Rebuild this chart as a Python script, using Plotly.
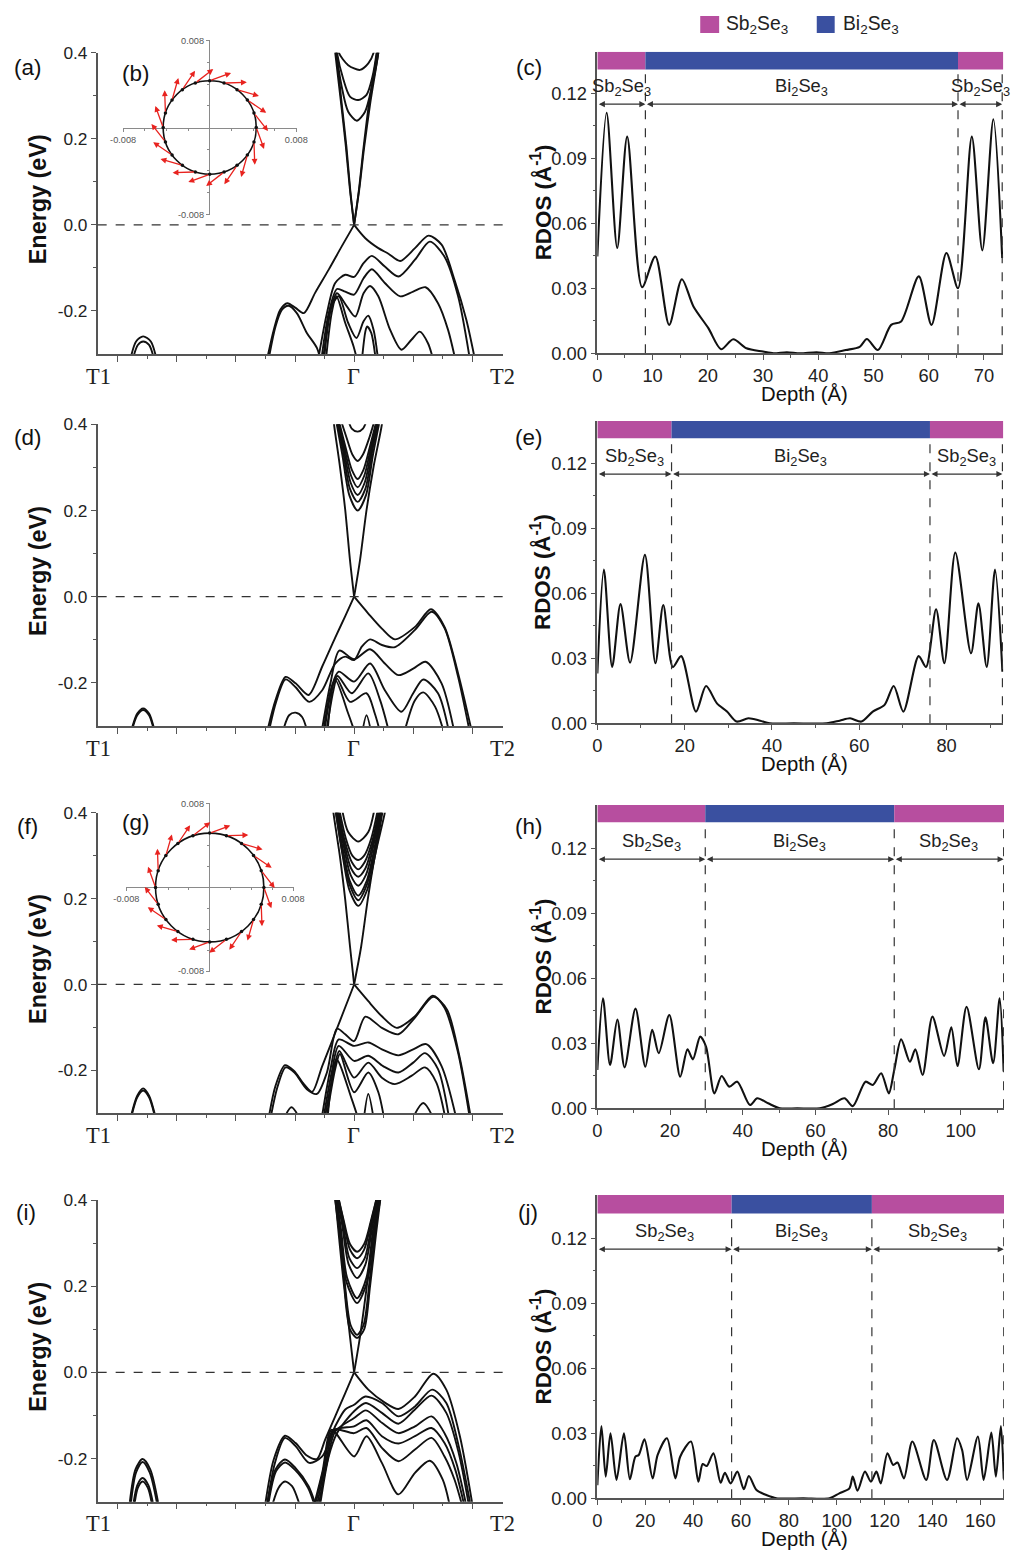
import math
import plotly.graph_objects as go

# The photographed page maps onto the picture as 10 px + 0.98 * page px, so layout
# positions (in picture px) are converted with that mapping.
FW, FH = 1015, 1550
OFF, SPAN_W, SPAN_H = 10, 995, 1530
FS = 1.017  # font scale compensating the photo shrink

# ------------------------------------------------------------------ band data
# k axis: T1 = -4, Gamma = 0, T2 = 2 (major tick units); E in eV
k_ticks = [-4, -3, -2, -1, 0, 1, 2]
k_minor = [-3.5, -2.5, -1.5, -0.5, 0.5, 1.5]
k_labels = ['T1', 'Γ', 'T2']
e_ticks = [-0.2, 0.0, 0.2, 0.4]
e_ticktext = ['-0.2', '0.0', '0.2', '0.4']
e_minor = [-0.1, 0.1, 0.3]

bands_a_k = [
    [-3.80, -3.69, -3.57, -3.44, -3.33],
    [-3.76, -3.66, -3.57, -3.47, -3.37],
    [-1.50, -1.36, -1.25, -1.13, -0.99, -0.85, -0.66, -0.43, -0.21, 0],
    [0, 0.19, 0.41, 0.58, 0.78, 1.03, 1.26, 1.48, 1.70, 1.90, 2.07],
    [-1.47, -1.33, -1.22, -1.11, -0.97, -0.80, -0.63, -0.54],
    [-0.63, -0.46, -0.32, -0.15, 0, 0.16, 0.30, 0.52, 0.75, 1.03, 1.28, 1.53, 1.76, 1.98],
    [-0.57, -0.43, -0.29, -0.15, 0, 0.16, 0.30, 0.52, 0.78, 1.0, 1.21, 1.42, 1.59, 1.74],
    [-0.54, -0.40, -0.29, -0.12, 0.02, 0.16, 0.27, 0.41, 0.61, 0.80, 0.97, 1.11, 1.25, 1.37],
    [-0.52, -0.38, -0.26, -0.10, 0.04, 0.16, 0.24, 0.33, 0.42],
    [-0.49, -0.38, -0.30, -0.15, -0.01, 0.08],
    [0.12, 0.19, 0.22, 0.29, 0.38],
    [0, -0.07, -0.14, -0.22, -0.32, -0.35],
    [0, 0.08, 0.16, 0.25, 0.39, 0.42],
    [0, -0.065, -0.13, -0.21, -0.30, -0.33],
    [0, 0.085, 0.17, 0.27, 0.41, 0.44],
    [-0.32, -0.30, -0.21, -0.10, 0.045, 0.185, 0.30, 0.41, 0.43],
    [-0.31, -0.29, -0.18, -0.07, 0.07, 0.21, 0.31, 0.38, 0.40],
    [-0.28, -0.26, -0.10, 0.10, 0.24, 0.33, 0.35],
]
bands_a_E = [
    [-0.32, -0.271, -0.259, -0.271, -0.32],
    [-0.32, -0.279, -0.271, -0.279, -0.32],
    [-0.33, -0.244, -0.197, -0.182, -0.193, -0.205, -0.158, -0.104, -0.050, 0],
    [0, -0.031, -0.054, -0.067, -0.084, -0.054, -0.025, -0.046, -0.128, -0.221, -0.33],
    [-0.33, -0.236, -0.197, -0.188, -0.205, -0.251, -0.286, -0.33],
    [-0.33, -0.205, -0.135, -0.116, -0.121, -0.089, -0.072, -0.097, -0.120, -0.081, -0.039, -0.074, -0.166, -0.33],
    [-0.33, -0.205, -0.149, -0.155, -0.162, -0.124, -0.103, -0.135, -0.166, -0.155, -0.145, -0.182, -0.244, -0.33],
    [-0.33, -0.197, -0.159, -0.190, -0.213, -0.159, -0.142, -0.166, -0.244, -0.290, -0.267, -0.248, -0.275, -0.33],
    [-0.33, -0.190, -0.166, -0.228, -0.263, -0.224, -0.211, -0.244, -0.33],
    [-0.33, -0.205, -0.166, -0.228, -0.282, -0.33],
    [-0.33, -0.248, -0.236, -0.251, -0.33],
    [0, 0.081, 0.182, 0.282, 0.40, 0.44],
    [0, 0.08, 0.18, 0.28, 0.40, 0.44],
    [0, 0.081, 0.182, 0.282, 0.40, 0.44],
    [0, 0.08, 0.18, 0.28, 0.40, 0.44],
    [0.43, 0.40, 0.321, 0.263, 0.242, 0.263, 0.321, 0.40, 0.43],
    [0.43, 0.40, 0.337, 0.298, 0.29, 0.302, 0.344, 0.40, 0.43],
    [0.42, 0.40, 0.371, 0.36, 0.375, 0.40, 0.42],
]

bands_d_k = [
    [-3.79, -3.67, -3.57, -3.47, -3.36],
    [-3.78, -3.67, -3.57, -3.47, -3.37],
    [-1.50, -1.33, -1.16, -0.99, -0.77, -0.54, -0.32, -0.15, 0],
    [0, 0.24, 0.47, 0.69, 1.03, 1.30, 1.53, 1.76, 2.02],
    [-1.47, -1.32, -1.16, -0.99, -0.76, -0.54, -0.32, -0.15, 0, 0.13, 0.27, 0.47, 0.69, 1.03, 1.31, 1.53, 1.76, 1.98],
    [-0.57, -0.40, -0.25, 0, 0.27, 0.52, 0.75, 1.0, 1.21, 1.48, 1.72],
    [-0.54, -0.38, -0.26, 0, 0.27, 0.52, 0.80, 1.0, 1.17, 1.42, 1.63],
    [-0.52, -0.37, -0.28, -0.04, 0.24, 0.44, 0.62],
    [0.82, 1.03, 1.17, 1.37, 1.55],
    [-0.49, -0.35, -0.29, -0.07, 0.21, 0.35, 0.47],
    [-0.46, -0.32, -0.10, 0.05],
    [0.12, 0.21, 0.31],
    [-1.24, -1.10, -0.99, -0.88, -0.76],
    [0, -0.07, -0.15, -0.24, -0.34, -0.36],
    [0, 0.10, 0.21, 0.33, 0.47, 0.49],
    [-0.32, -0.20, -0.08, 0.06, 0.20, 0.32, 0.45],
    [-0.31, -0.19, -0.07, 0.06, 0.19, 0.31, 0.43],
    [-0.30, -0.18, -0.06, 0.06, 0.18, 0.30, 0.42],
    [-0.29, -0.17, -0.05, 0.06, 0.17, 0.29, 0.41],
    [-0.28, -0.16, -0.04, 0.06, 0.16, 0.28, 0.40],
    [-0.25, -0.13, -0.03, 0.06, 0.15, 0.26, 0.37],
    [-0.12, -0.04, 0.06, 0.15, 0.24],
]
bands_d_E = [
    [-0.32, -0.271, -0.259, -0.271, -0.32],
    [-0.32, -0.275, -0.263, -0.275, -0.32],
    [-0.33, -0.240, -0.186, -0.201, -0.228, -0.162, -0.095, -0.045, 0],
    [0, -0.039, -0.074, -0.099, -0.070, -0.029, -0.070, -0.178, -0.33],
    [-0.33, -0.244, -0.192, -0.210, -0.244, -0.217, -0.155, -0.139, -0.147, -0.116, -0.099, -0.112, -0.117, -0.077, -0.035, -0.073, -0.186, -0.33],
    [-0.33, -0.201, -0.125, -0.145, -0.122, -0.155, -0.182, -0.167, -0.151, -0.201, -0.33],
    [-0.33, -0.209, -0.174, -0.197, -0.155, -0.217, -0.267, -0.224, -0.192, -0.224, -0.33],
    [-0.33, -0.209, -0.184, -0.224, -0.178, -0.240, -0.33],
    [-0.33, -0.240, -0.222, -0.255, -0.33],
    [-0.33, -0.217, -0.190, -0.244, -0.224, -0.271, -0.33],
    [-0.33, -0.193, -0.271, -0.33],
    [-0.33, -0.275, -0.33],
    [-0.33, -0.275, -0.269, -0.279, -0.33],
    [0, 0.085, 0.201, 0.302, 0.40, 0.43],
    [0, 0.085, 0.201, 0.302, 0.40, 0.43],
    [0.42, 0.33, 0.235, 0.20, 0.235, 0.33, 0.42],
    [0.42, 0.34, 0.25, 0.22, 0.25, 0.34, 0.42],
    [0.42, 0.345, 0.265, 0.236, 0.265, 0.345, 0.42],
    [0.42, 0.35, 0.28, 0.254, 0.28, 0.35, 0.42],
    [0.42, 0.355, 0.295, 0.273, 0.295, 0.355, 0.42],
    [0.42, 0.37, 0.33, 0.315, 0.33, 0.37, 0.42],
    [0.42, 0.39, 0.383, 0.39, 0.42],
]

bands_f_k = [
    [-3.80, -3.67, -3.57, -3.47, -3.34],
    [-3.79, -3.67, -3.57, -3.47, -3.35],
    [-1.47, -1.33, -1.17, -1.02, -0.85, -0.71, -0.54, -0.32, -0.15, 0],
    [0, 0.24, 0.47, 0.72, 1.03, 1.33, 1.53, 1.76, 1.98],
    [-1.44, -1.30, -1.16, -1.01, -0.80, -0.63, -0.46, -0.29, -0.15, 0, 0.19, 0.47, 0.75, 1.03, 1.34, 1.57, 1.78, 2.0],
    [-0.57, -0.40, -0.26, 0, 0.24, 0.47, 0.75, 1.0, 1.22, 1.48, 1.76],
    [-0.54, -0.38, -0.26, 0, 0.24, 0.49, 0.75, 1.0, 1.20, 1.42, 1.63],
    [-0.52, -0.35, -0.25, 0, 0.24, 0.47, 0.69, 0.97, 1.20, 1.39, 1.57],
    [-0.49, -0.32, -0.24, 0, 0.24, 0.41, 0.53],
    [-0.46, -0.30, -0.04, 0.11],
    [0.15, 0.24, 0.35],
    [0.93, 1.17, 1.40],
    [-1.24, -1.06, -0.86],
    [0, -0.07, -0.15, -0.24, -0.35, -0.37],
    [0, 0.12, 0.23, 0.35, 0.52, 0.55],
    [-0.22, -0.10, 0.07, 0.24, 0.36],
    [-0.27, -0.14, -0.03, 0.07, 0.17, 0.29, 0.42],
    [-0.29, -0.16, -0.04, 0.07, 0.18, 0.31, 0.44],
    [-0.30, -0.17, -0.05, 0.07, 0.19, 0.32, 0.46],
    [-0.31, -0.18, -0.06, 0.07, 0.20, 0.33, 0.47],
    [-0.32, -0.19, -0.07, 0.07, 0.21, 0.34, 0.48],
    [-0.33, -0.20, -0.07, 0.07, 0.21, 0.35, 0.49],
    [-0.33, -0.20, -0.08, 0.07, 0.22, 0.36, 0.50],
]
bands_f_E = [
    [-0.32, -0.259, -0.242, -0.259, -0.32],
    [-0.32, -0.263, -0.247, -0.263, -0.32],
    [-0.33, -0.236, -0.188, -0.201, -0.232, -0.250, -0.190, -0.113, -0.053, 0],
    [0, -0.039, -0.074, -0.101, -0.074, -0.026, -0.054, -0.159, -0.33],
    [-0.33, -0.240, -0.193, -0.205, -0.244, -0.255, -0.205, -0.103, -0.116, -0.132, -0.075, -0.101, -0.116, -0.077, -0.029, -0.058, -0.166, -0.33],
    [-0.33, -0.197, -0.128, -0.143, -0.135, -0.151, -0.165, -0.151, -0.139, -0.190, -0.33],
    [-0.33, -0.205, -0.143, -0.178, -0.166, -0.190, -0.205, -0.182, -0.160, -0.197, -0.33],
    [-0.33, -0.205, -0.155, -0.217, -0.182, -0.217, -0.232, -0.213, -0.193, -0.228, -0.33],
    [-0.33, -0.197, -0.162, -0.251, -0.205, -0.251, -0.33],
    [-0.33, -0.174, -0.267, -0.33],
    [-0.33, -0.255, -0.33],
    [-0.33, -0.276, -0.33],
    [-0.33, -0.286, -0.33],
    [0, 0.089, 0.197, 0.298, 0.40, 0.43],
    [0, 0.089, 0.197, 0.298, 0.40, 0.43],
    [0.42, 0.355, 0.333, 0.355, 0.42],
    [0.42, 0.34, 0.30, 0.29, 0.30, 0.34, 0.42],
    [0.42, 0.335, 0.285, 0.268, 0.285, 0.335, 0.42],
    [0.42, 0.33, 0.27, 0.251, 0.27, 0.33, 0.42],
    [0.42, 0.325, 0.255, 0.23, 0.255, 0.325, 0.42],
    [0.42, 0.315, 0.24, 0.207, 0.24, 0.315, 0.42],
    [0.42, 0.31, 0.23, 0.196, 0.23, 0.31, 0.42],
    [0.42, 0.305, 0.22, 0.183, 0.22, 0.305, 0.42],
]

bands_i_k = [
    [-3.82, -3.70, -3.58, -3.45, -3.28],
    [-3.80, -3.69, -3.58, -3.46, -3.30],
    [-3.76, -3.67, -3.58, -3.48, -3.37],
    [-3.74, -3.66, -3.58, -3.49, -3.39],
    [-1.53, -1.36, -1.17, -0.99, -0.80, -0.63, -0.49, -0.32, -0.15, 0],
    [0, 0.24, 0.52, 0.75, 1.03, 1.34, 1.56, 1.79, 2.03],
    [-1.50, -1.34, -1.17, -0.99, -0.76, -0.54, -0.32, -0.15, 0, 0.19, 0.47, 0.75, 1.03, 1.32, 1.56, 1.77, 2.0],
    [-0.60, -0.43, -0.29, 0, 0.20, 0.47, 0.75, 1.03, 1.31, 1.56, 1.77, 1.97],
    [-0.63, -0.46, -0.32, 0, 0.20, 0.47, 0.75, 1.03, 1.31, 1.53, 1.73, 1.93],
    [-0.66, -0.49, -0.33, 0, 0.21, 0.47, 0.75, 1.03, 1.31, 1.53, 1.71, 1.90],
    [-0.69, -0.52, -0.35, 0, 0.21, 0.47, 0.75, 1.03, 1.31, 1.53, 1.70, 1.87],
    [-0.72, -0.54, -0.38, 0, 0.21, 0.47, 0.75, 1.03, 1.28, 1.50, 1.65],
    [-1.50, -1.33, -1.17, -0.99, -0.77, -0.60],
    [-1.48, -1.32, -1.17, -1.0, -0.78, -0.62],
    [-1.43, -1.28, -1.17, -1.05, -0.87],
    [0, -0.07, -0.15, -0.22, -0.32, -0.34],
    [0, 0.10, 0.20, 0.30, 0.44, 0.46],
    [-0.29, -0.18, -0.07, 0.05, 0.17, 0.29, 0.41],
    [-0.29, -0.18, -0.07, 0.05, 0.17, 0.29, 0.41],
    [-0.30, -0.19, -0.08, 0.05, 0.18, 0.30, 0.42],
    [-0.30, -0.20, -0.09, 0.05, 0.19, 0.31, 0.42],
    [-0.31, -0.22, -0.12, 0.05, 0.21, 0.32, 0.43],
    [-0.32, -0.23, -0.13, 0.05, 0.22, 0.33, 0.44],
    [-0.32, -0.25, -0.16, -0.06, 0.05, 0.16, 0.26, 0.36, 0.45],
    [-0.33, -0.26, -0.17, -0.07, 0.05, 0.17, 0.27, 0.37, 0.46],
]
bands_i_E = [
    [-0.33, -0.225, -0.201, -0.225, -0.33],
    [-0.33, -0.232, -0.208, -0.232, -0.33],
    [-0.33, -0.262, -0.245, -0.262, -0.33],
    [-0.33, -0.268, -0.253, -0.268, -0.33],
    [-0.33, -0.202, -0.147, -0.164, -0.193, -0.201, -0.156, -0.102, -0.048, 0],
    [0, -0.040, -0.070, -0.085, -0.056, -0.003, -0.040, -0.148, -0.33],
    [-0.33, -0.210, -0.152, -0.171, -0.210, -0.195, -0.125, -0.086, -0.075, -0.056, -0.071, -0.102, -0.079, -0.040, -0.071, -0.171, -0.33],
    [-0.33, -0.195, -0.141, -0.090, -0.071, -0.094, -0.119, -0.086, -0.054, -0.094, -0.187, -0.33],
    [-0.33, -0.210, -0.137, -0.106, -0.088, -0.117, -0.141, -0.125, -0.102, -0.141, -0.210, -0.33],
    [-0.33, -0.218, -0.134, -0.125, -0.111, -0.148, -0.165, -0.148, -0.129, -0.164, -0.225, -0.33],
    [-0.33, -0.225, -0.133, -0.141, -0.129, -0.175, -0.206, -0.179, -0.152, -0.195, -0.249, -0.33],
    [-0.33, -0.233, -0.133, -0.195, -0.148, -0.210, -0.283, -0.233, -0.205, -0.249, -0.33],
    [-0.33, -0.225, -0.202, -0.222, -0.264, -0.33],
    [-0.33, -0.229, -0.209, -0.226, -0.268, -0.33],
    [-0.33, -0.268, -0.253, -0.264, -0.33],
    [0, 0.083, 0.184, 0.292, 0.40, 0.43],
    [0, 0.083, 0.184, 0.292, 0.40, 0.43],
    [0.42, 0.355, 0.298, 0.280, 0.298, 0.355, 0.42],
    [0.42, 0.35, 0.285, 0.265, 0.285, 0.35, 0.42],
    [0.42, 0.345, 0.265, 0.242, 0.265, 0.345, 0.42],
    [0.42, 0.34, 0.25, 0.219, 0.25, 0.34, 0.42],
    [0.42, 0.33, 0.22, 0.172, 0.22, 0.33, 0.42],
    [0.42, 0.32, 0.21, 0.161, 0.21, 0.32, 0.42],
    [0.42, 0.33, 0.21, 0.11, 0.087, 0.11, 0.21, 0.33, 0.42],
    [0.42, 0.32, 0.20, 0.10, 0.080, 0.10, 0.20, 0.32, 0.42],
]

# ------------------------------------------------------------------ RDOS data
depth_c = [0, 1.68, 3.6, 5.4, 8.1, 10.5, 13.0, 15.3, 17.4, 20.1, 22.4, 24.6, 27, 30, 31.9, 34.3, 36.7,
           39.7, 42, 45, 47.5, 48.8, 50.8, 53.2, 55, 58.2, 60.5, 63.2, 65.3, 67.8, 69.7, 71.7, 73.3]
rdos_c = [0.0447, 0.111, 0.0486, 0.100, 0.0305, 0.0447, 0.0131, 0.0342, 0.0216, 0.0116, 0.0019, 0.0065,
          0.0023, 0.0008, 0, 0.0005, 0, 0.0005, 0, 0.0015, 0.003, 0.0066, 0.0015, 0.0131, 0.0147, 0.0355,
          0.0131, 0.0463, 0.030, 0.100, 0.0475, 0.108, 0.044]

depth_e = [0, 1.5, 3.4, 5.3, 7.5, 10.9, 13.3, 15.1, 17.3, 19.2, 22.6, 24.9, 27.4, 29.7, 31.9, 34.6, 37.3,
           39.5, 45, 52.5, 55.5, 57.9, 60.5, 63.1, 65.8, 67.9, 70.1, 73.6, 75.3, 77.6, 79.5, 82.0, 85.6,
           87.3, 89.2, 91.1, 92.8]
rdos_e = [0.023, 0.071, 0.026, 0.055, 0.028, 0.0777, 0.0277, 0.0546, 0.026, 0.031, 0.0054, 0.0172, 0.0092,
          0.0054, 0.0008, 0.0023, 0.0012, 0, 0, 0, 0.0012, 0.0023, 0.0008, 0.0054, 0.0085, 0.0172, 0.0054,
          0.031, 0.026, 0.0526, 0.0277, 0.0788, 0.0323, 0.0554, 0.026, 0.071, 0.0238]

depth_h = [0, 1.55, 3.5, 5.5, 7.5, 10.5, 13.2, 15.1, 16.9, 19.8, 22.8, 24.8, 26.3, 28.3, 29.9, 32.2, 34.2,
           36.3, 38.5, 42.0, 44.0, 47.0, 50.2, 55.0, 61.2, 64.8, 68.0, 70.3, 73.8, 75.8, 78.1, 80.2, 81.7,
           83.6, 86.0, 87.5, 89.5, 92.2, 95.4, 97.4, 99.1, 101.6, 105.0, 106.8, 108.9, 110.7, 111.8]
rdos_h = [0.0177, 0.0508, 0.020, 0.041, 0.0189, 0.046, 0.0192, 0.0362, 0.0254, 0.0431, 0.0146, 0.0272,
          0.0226, 0.0331, 0.0285, 0.0069, 0.0149, 0.010, 0.0123, 0.0015, 0.0046, 0.0023, 0, 0, 0, 0.002,
          0.0046, 0.001, 0.0123, 0.0108, 0.0162, 0.0069, 0.0177, 0.0318, 0.0215, 0.0272, 0.0154, 0.0423,
          0.0242, 0.0374, 0.0195, 0.0469, 0.018, 0.042, 0.0208, 0.0508, 0.0170]

depth_j = [0, 1.7, 3.5, 5.5, 8.0, 11.1, 13.6, 15.9, 17.3, 19.7, 23.1, 25.2, 29.1, 32.6, 34.6, 39.1, 42.2,
           44.0, 45.7, 48.5, 51.5, 53.3, 55.7, 58.5, 61.2, 63.3, 66.5, 70.6, 74.8, 86, 97.0, 101.1, 105.3,
           106.7, 108.7, 111.8, 114.3, 116.6, 118.4, 121.2, 123.6, 125.4, 128.1, 131.6, 137.4, 140.6, 146.1,
           150.3, 152.4, 154.5, 159.0, 161.4, 164.6, 166.5, 168.6, 169.8]
rdos_j = [0.006, 0.0334, 0.010, 0.030, 0.0085, 0.030, 0.0088, 0.0192, 0.020, 0.0272, 0.0092, 0.020, 0.0277,
          0.0092, 0.0192, 0.0262, 0.0077, 0.0158, 0.0149, 0.0208, 0.0072, 0.0118, 0.0069, 0.0123, 0.0042,
          0.0103, 0.0038, 0.0015, 0, 0, 0, 0.0023, 0.0046, 0.010, 0.0035, 0.0123, 0.0077, 0.0123, 0.0069,
          0.0208, 0.0154, 0.0165, 0.0092, 0.0262, 0.0085, 0.0269, 0.0085, 0.0277, 0.0223, 0.0085, 0.0285,
          0.0085, 0.0303, 0.010, 0.0334, 0.009]

layers_c = [0, 8.7, 65.3, 73.3]
layers_e = [0, 17.0, 76.2, 92.8]
layers_h = [0, 29.7, 81.7, 111.8]
layers_j = [0, 56.1, 114.7, 169.8]
layer_names = ['Sb<sub>2</sub>Se<sub>3</sub>', 'Bi<sub>2</sub>Se<sub>3</sub>', 'Sb<sub>2</sub>Se<sub>3</sub>']

rdos_ticks = [0, 0.03, 0.06, 0.09, 0.12]
rdos_ticktext = ['0.00', '0.03', '0.06', '0.09', '0.12']
rdos_minor = [0.015, 0.045, 0.075, 0.105]

# ------------------------------------------------------------------ spin texture data
spin_angles = [0, 18, 36, 54, 72, 90, 108, 126, 144, 162, 180, 198, 216, 234, 252, 270, 288, 306, 324, 342]
spin_radius_b = 0.0043
spin_radius_g = 0.0052
inset_ticks = [-0.008, 0.008]
inset_ticktext = ['-0.008', '0.008']
inset_minor = [-0.006, -0.004, -0.002, 0.002, 0.004, 0.006]

PINK = '#b74e9f'
BLUE = '#3a50a0'
RED = '#e8231f'
AXC = '#555555'
TXT = '#222222'
SANS = 'Liberation Sans, Arial, sans-serif'
SERIF = 'Liberation Serif, Times New Roman, serif'

fig = go.Figure()
shapes, annotations, axes = [], [], {}


def px(v):
    return min(max((v - OFF) / SPAN_W, 0), 1)


def py(v):
    return min(max(1 - (v - OFF) / SPAN_H, 0), 1)


def fs(size):
    return round(size * FS, 1)


def aname(i, kind):
    return f'{kind}axis' + ('' if i == 1 else str(i))


def aref(i, kind):
    return kind + ('' if i == 1 else str(i))


def paper_text(text, x, y, size, family=SANS, color='#111', angle=0, xanchor='center'):
    annotations.append(dict(text=text, x=px(x), y=py(y), xref='paper', yref='paper', showarrow=False,
                            xanchor=xanchor, yanchor='middle', textangle=angle,
                            font=dict(family=family, size=fs(size), color=color)))


def band_panel(i, top, bot, ks, Es):
    xr, yr = aref(i, 'x'), aref(i, 'y')
    for k, E in zip(ks, Es):
        fig.add_trace(go.Scatter(x=k, y=E, mode='lines', xaxis=xr, yaxis=yr, hoverinfo='skip',
                                 showlegend=False,
                                 line=dict(color='#111111', width=1.9, shape='spline', smoothing=0.8)))
    axes[aname(i, 'x')] = dict(
        domain=[px(95), px(502)], range=[-4.34, 2.52], anchor=yr, showline=True, linecolor=AXC,
        linewidth=1.5, ticks='outside', ticklen=6, tickwidth=1.3, tickcolor=AXC, tickmode='array',
        tickvals=k_ticks, showticklabels=False,
        minor=dict(tickmode='array', tickvals=k_minor, ticks='outside', ticklen=3, tickwidth=1.1,
                   tickcolor=AXC),
        showgrid=False, zeroline=False, fixedrange=True)
    axes[aname(i, 'y')] = dict(
        domain=[py(bot), py(top)], range=[-0.3, 0.4], anchor=xr, showline=True, linecolor=AXC,
        linewidth=1.5, ticks='outside', ticklen=5, tickwidth=1.3, tickcolor=AXC, tickmode='array',
        tickvals=e_ticks, ticktext=e_ticktext, tickfont=dict(family=SANS, size=fs(17), color=TXT),
        minor=dict(tickmode='array', tickvals=e_minor, ticks='outside', ticklen=3, tickwidth=1.1,
                   tickcolor=AXC),
        showgrid=False, zeroline=False, fixedrange=True)
    shapes.append(dict(type='line', xref=f'{xr} domain', yref=yr, x0=0, x1=1, y0=0, y1=0,
                       line=dict(color='#333333', width=1.2, dash='dash')))
    # k-path labels: T1 and T2 sit at the ends of the axis, Γ under its tick
    for lab, xx in zip(k_labels, [96, 352.3, 501]):
        paper_text(lab, xx, bot + 22, 22, family=SERIF, color=TXT)
    paper_text('<b>Energy (eV)</b>', 35, (top + bot) / 2 - 4, 23, angle=-90)


def rdos_panel(i, top, bot, xright, x1px, ytop, bar_lo, depth, rdos, layers, xt, xminor):
    xr, yr = aref(i, 'x'), aref(i, 'y')
    fig.add_trace(go.Scatter(x=depth, y=rdos, mode='lines', xaxis=xr, yaxis=yr, hoverinfo='skip',
                             showlegend=False,
                             line=dict(color='#111111', width=2.1, shape='spline', smoothing=0.8)))
    axes[aname(i, 'x')] = dict(
        domain=[px(596.7), px(x1px)], range=[0, xright], anchor=yr, showline=True, linecolor=AXC,
        linewidth=1.5, ticks='outside', ticklen=5, tickwidth=1.3, tickcolor=AXC, tickmode='array',
        tickvals=xt, tickfont=dict(family=SANS, size=fs(18), color=TXT),
        minor=dict(tickmode='array', tickvals=xminor, ticks='outside', ticklen=3, tickwidth=1.1,
                   tickcolor=AXC),
        showgrid=False, zeroline=False, fixedrange=True)
    axes[aname(i, 'y')] = dict(
        domain=[py(bot), py(top)], range=[0, ytop], anchor=xr, showline=True, linecolor=AXC,
        linewidth=1.5, ticks='outside', ticklen=5, tickwidth=1.3, tickcolor=AXC, tickmode='array',
        tickvals=rdos_ticks, ticktext=rdos_ticktext, ticklabelstandoff=0,
        tickfont=dict(family=SANS, size=fs(18), color=TXT),
        minor=dict(tickmode='array', tickvals=rdos_minor, ticks='outside', ticklen=3, tickwidth=1.1,
                   tickcolor=AXC),
        showgrid=False, zeroline=False, fixedrange=True)
    segs = [(layers[0], layers[1], PINK), (layers[1], layers[2], BLUE), (layers[2], xright, PINK)]
    for a, b, c in segs:
        shapes.append(dict(type='rect', xref=xr, yref=yr, x0=a, x1=b, y0=bar_lo, y1=ytop,
                           fillcolor=c, line=dict(width=0), layer='above'))
    for d in layers[1:]:
        shapes.append(dict(type='line', xref=xr, yref=yr, x0=d, x1=d, y0=0, y1=bar_lo,
                           line=dict(color='#333333', width=1.2, dash='dash')))
    for j in range(3):
        annotations.append(dict(x=layers[j + 1], y=0.115, ax=layers[j], ay=0.115, xref=xr, yref=yr,
                                axref=xr, ayref=yr, text='', showarrow=True, arrowside='end+start',
                                arrowhead=2, arrowsize=1.1, arrowwidth=1.1, arrowcolor='#333333',
                                standoff=0, startstandoff=0))
        annotations.append(dict(x=(layers[j] + layers[j + 1]) / 2, y=0.1228, xref=xr, yref=yr,
                                text=layer_names[j], showarrow=False, xanchor='center',
                                yanchor='middle', font=dict(family=SANS, size=fs(18), color='#222')))
    paper_text('<b>RDOS (Å<sup>-1</sup>)</b>', 540, (top + bot) / 2, 22, angle=-90)
    paper_text('Depth (Å)', 805, bot + 41, 20)


def spin_inset(i, x0p, x1p, y0p, y1p, cxp, cyp, radius, alen, tilt):
    xr, yr = aref(i, 'x'), aref(i, 'y')
    common = dict(range=[-0.00805, 0.00805], anchor='free', showline=True, linecolor='#8a8a8a',
                  linewidth=1, ticks='outside', ticklen=3, tickwidth=1, tickcolor='#8a8a8a',
                  tickmode='array', tickvals=inset_ticks, ticktext=inset_ticktext,
                  tickfont=dict(family=SANS, size=fs(9), color='#555'),
                  minor=dict(tickmode='array', tickvals=inset_minor, ticks='outside', ticklen=2,
                             tickwidth=1, tickcolor='#8a8a8a'),
                  showgrid=False, zeroline=False, fixedrange=True, layer='below traces')
    axes[aname(i, 'x')] = dict(domain=[px(x0p), px(x1p)], position=py(cyp), **common)
    axes[aname(i, 'y')] = dict(domain=[py(y1p), py(y0p)], position=px(cxp), **common)
    shapes.append(dict(type='circle', xref=xr, yref=yr, x0=-radius, x1=radius, y0=-radius, y1=radius,
                       line=dict(color='#111111', width=1.6)))
    tx = [radius * math.cos(math.radians(a)) for a in spin_angles]
    ty = [radius * math.sin(math.radians(a)) for a in spin_angles]
    fig.add_trace(go.Scatter(x=tx, y=ty, mode='markers', xaxis=xr, yaxis=yr, hoverinfo='skip',
                             showlegend=False, marker=dict(color='#111111', size=3.5)))
    for a, x0, y0 in zip(spin_angles, tx, ty):
        phi = math.radians(a - 90 + tilt)
        annotations.append(dict(x=x0 + alen * math.cos(phi), y=y0 + alen * math.sin(phi), ax=x0, ay=y0,
                                xref=xr, yref=yr, axref=xr, ayref=yr, text='', showarrow=True,
                                arrowhead=2, arrowsize=0.9, arrowwidth=1.3, arrowcolor=RED,
                                standoff=0, startstandoff=0))


# band structure panels
band_panel(1, 52.7, 354.0, bands_a_k, bands_a_E)
band_panel(3, 424.3, 726.0, bands_d_k, bands_d_E)
band_panel(5, 812.7, 1113.3, bands_f_k, bands_f_E)
band_panel(7, 1200.0, 1501.7, bands_i_k, bands_i_E)

# RDOS panels
rdos_panel(2, 51.7, 353.3, 73.5, 1004.3, 0.1392, 0.131, depth_c, rdos_c, layers_c,
           [0, 10, 20, 30, 40, 50, 60, 70], [5, 15, 25, 35, 45, 55, 65])
rdos_panel(4, 421.0, 723.3, 93.0, 1004.3, 0.1395, 0.1315, depth_e, rdos_e, layers_e,
           [0, 20, 40, 60, 80], [10, 30, 50, 70, 90])
rdos_panel(6, 805.0, 1108.3, 111.9, 1005.0, 0.14, 0.132, depth_h, rdos_h, layers_h,
           [0, 20, 40, 60, 80, 100], [10, 30, 50, 70, 90, 110])
rdos_panel(8, 1195.0, 1498.3, 169.9, 1005.0, 0.14, 0.1315, depth_j, rdos_j, layers_j,
           [0, 20, 40, 60, 80, 100, 120, 140, 160], [10, 30, 50, 70, 90, 110, 130, 150])

# spin texture insets
spin_inset(9, 120, 295, 40, 215, 206.7, 128.3, spin_radius_b, 0.0021, 20)
spin_inset(10, 123.3, 291.7, 803.3, 971.7, 206.7, 887.3, spin_radius_g, 0.0021, 20)

# panel labels
for t, x, y in [('(a)', 25, 68), ('(b)', 133, 74), ('(c)', 528, 68), ('(d)', 25, 437),
                ('(e)', 528, 437), ('(f)', 25, 826), ('(g)', 133, 822), ('(h)', 528, 826),
                ('(i)', 23, 1212), ('(j)', 527, 1212)]:
    paper_text(t, x, y, 22)

# top legend
shapes.append(dict(type='rect', xref='paper', yref='paper', x0=px(700), x1=px(719), y0=py(33), y1=py(16),
                   fillcolor=PINK, line=dict(width=0)))
shapes.append(dict(type='rect', xref='paper', yref='paper', x0=px(817), x1=px(835), y0=py(33), y1=py(16),
                   fillcolor=BLUE, line=dict(width=0)))
paper_text(layer_names[0], 724, 25, 19, color='#222', xanchor='left')
paper_text(layer_names[1], 841, 25, 19, color='#222', xanchor='left')

fig.update_layout(width=FW, height=FH, margin=dict(l=0, r=0, t=0, b=0), paper_bgcolor='white',
                  plot_bgcolor='rgba(0,0,0,0)', showlegend=False, shapes=shapes,
                  annotations=annotations, font=dict(family=SANS, color=TXT), **axes)

fig.write_html("out.html", config={'displayModeBar': False},
               post_script="document.body.style.margin='0';")
